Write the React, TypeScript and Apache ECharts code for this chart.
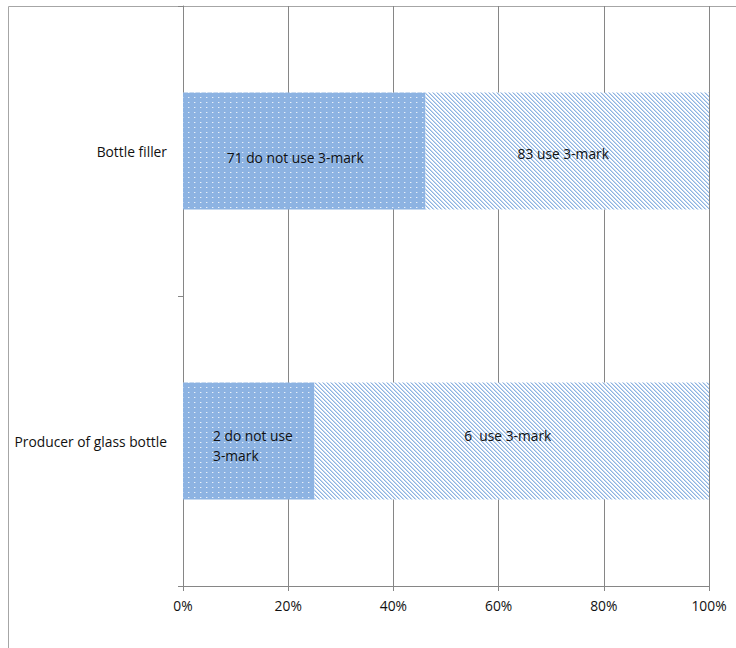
import React, { useEffect, useRef } from "react";
import * as echarts from "echarts";

const categories = ["Bottle filler", "Producer of glass bottle"];
const notUseCounts = [71, 2];
const useCounts = [83, 6];
const notUseLabels = ["71 do not use 3-mark", "2 do not use\n3-mark"];
const useLabels = ["83 use 3-mark", "6  use 3-mark"];
const xTicks = [0, 20, 40, 60, 80, 100];

const BLUE = "#8DB3E2";
const FONT = "Open Sans";
const FS = 13.8;

function makeTile(w: number, h: number, draw: (ctx: CanvasRenderingContext2D) => void) {
  const c = document.createElement("canvas");
  c.width = w;
  c.height = h;
  const ctx = c.getContext("2d")!;
  draw(ctx);
  return c;
}

export default function App() {
  const ref = useRef<HTMLDivElement>(null);
  useEffect(() => {
    if (!ref.current) return;
    const chart = echarts.init(ref.current, undefined, { renderer: "svg" });

    const dotTile = makeTile(6, 5, (ctx) => {
      ctx.fillStyle = BLUE;
      ctx.fillRect(0, 0, 6, 5);
      ctx.fillStyle = "rgba(255,255,255,0.8)";
      ctx.fillRect(2, 2, 1, 1);
      ctx.fillStyle = "rgba(255,255,255,0.3)";
      ctx.fillRect(3, 2, 1, 1);
    });
    const hatchTile = makeTile(4, 4, (ctx) => {
      ctx.fillStyle = "#ffffff";
      ctx.fillRect(0, 0, 4, 4);
      for (let i = 0; i < 4; i++) {
        ctx.fillStyle = BLUE;
        ctx.fillRect(i, i, 1, 1);
        ctx.fillStyle = "rgba(141,179,226,0.5)";
        ctx.fillRect((i + 1) % 4, i, 1, 1);
      }
    });

    const totals = notUseCounts.map((v, i) => v + useCounts[i]);
    const notUsePct = notUseCounts.map((v, i) => (v / totals[i]) * 100);
    const usePct = useCounts.map((v, i) => (v / totals[i]) * 100);

    const labelBase = {
      show: true,
      color: "#111",
      fontFamily: FONT,
      fontSize: FS,
      lineHeight: 20,
    };

    chart.setOption({
      animation: false,
      backgroundColor: "#fff",
      graphic: [
        {
          type: "rect",
          shape: { x: 8.5, y: 6.5, width: 900, height: 900 },
          style: { fill: "none", stroke: "#a6a6a6", lineWidth: 1 },
          z: -1,
        },
      ],
      grid: { left: 183, right: 27, top: 6, bottom: 62, containLabel: false },
      xAxis: {
        type: "value",
        min: 0,
        max: 100,
        interval: 20,
        axisLine: { show: true, lineStyle: { color: "#868686" } },
        axisTick: { show: true, length: 5, lineStyle: { color: "#868686" } },
        splitLine: { show: true, lineStyle: { color: "#868686" } },
        axisLabel: {
          formatter: (v: number) => (xTicks.includes(v) ? v + "%" : ""),
          color: "#111",
          fontFamily: FONT,
          fontSize: FS,
          margin: 12,
        },
      },
      yAxis: {
        type: "category",
        data: categories,
        inverse: true,
        axisLine: { show: true, lineStyle: { color: "#868686" } },
        axisTick: { show: true, length: 5, lineStyle: { color: "#868686" } },
        axisLabel: {
          color: "#111",
          fontFamily: FONT,
          fontSize: FS,
          margin: 16,
        },
      },
      series: [
        {
          type: "bar",
          name: "do not use 3-mark",
          stack: "total",
          barWidth: "40.3%",
          itemStyle: {
            color: { image: dotTile, repeat: "repeat", imageWidth: 6, imageHeight: 5 },
          },
          data: notUsePct.map((v, i) => ({
            value: v,
            label:
              i === 1
                ? { ...labelBase, position: "insideLeft", distance: 30, offset: [0, 4], formatter: notUseLabels[i] }
                : { ...labelBase, position: "inside", offset: [-9, 6], formatter: notUseLabels[i] },
          })),
        },
        {
          type: "bar",
          name: "use 3-mark",
          stack: "total",
          itemStyle: {
            color: { image: hatchTile, repeat: "repeat", imageWidth: 4, imageHeight: 4 },
          },
          data: usePct.map((v, i) => ({
            value: v,
            label: {
              ...labelBase,
              position: "inside",
              offset: i === 0 ? [-4, 2] : [-4, -6],
              formatter: useLabels[i],
            },
          })),
        },
      ],
    });
    return () => chart.dispose();
  }, []);
  return (
    <div
      ref={ref}
      style={{ position: "fixed", left: 0, top: 0, width: 736, height: 648 }}
    />
  );
}
